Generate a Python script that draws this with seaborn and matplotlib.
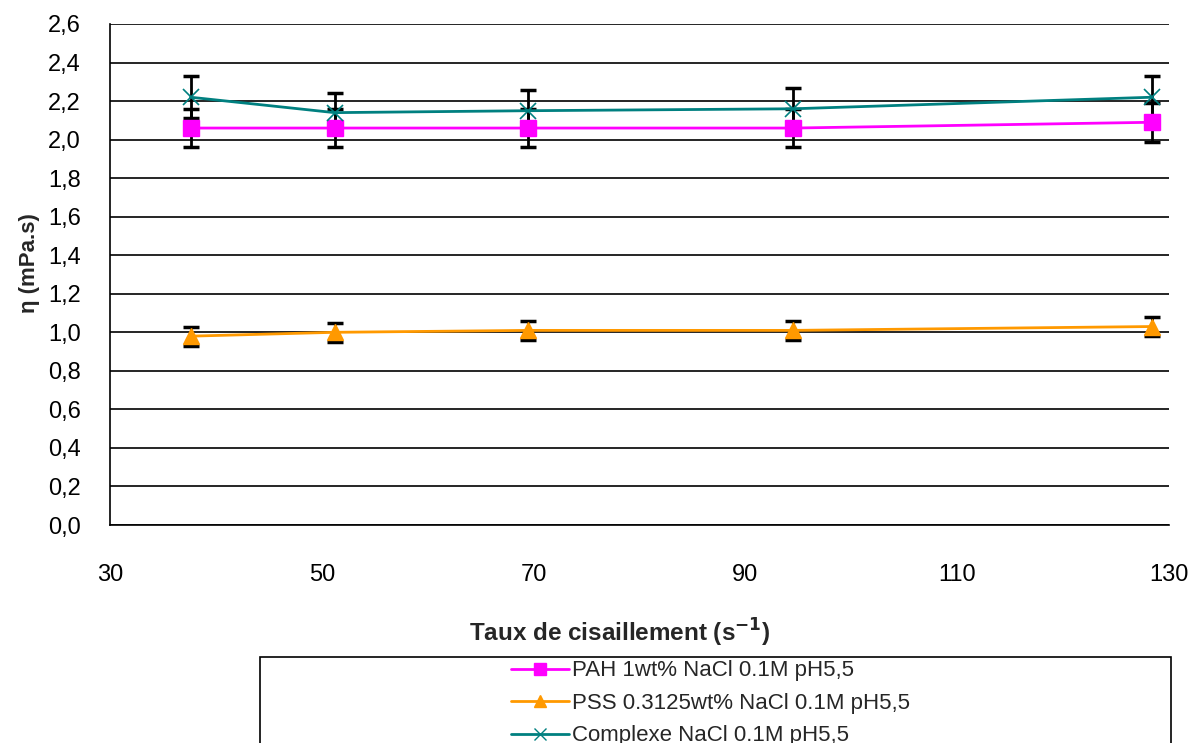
import seaborn as sns
import matplotlib.pyplot as plt
import matplotlib.patches as mpatches
import pandas as pd

# shear rate (s-1)
shear = [37.6, 51.2, 69.5, 94.5, 128.4]

# viscosity (mPa.s) and error bars
pah = [2.06, 2.06, 2.06, 2.06, 2.09]
pah_err = [0.10, 0.10, 0.10, 0.10, 0.10]
pss = [0.98, 1.00, 1.01, 1.01, 1.03]
pss_err = [0.05, 0.05, 0.05, 0.05, 0.05]
cplx = [2.22, 2.14, 2.15, 2.16, 2.22]
cplx_err = [0.11, 0.10, 0.11, 0.11, 0.11]

labels = ['PAH 1wt% NaCl 0.1M pH5,5',
          'PSS 0.3125wt% NaCl 0.1M pH5,5',
          'Complexe NaCl 0.1M pH5,5']
colors = ['#ff00ff', '#ff9900', '#008080']
markers = ['s', '^', 'x']

y_ticks = [0.0, 0.2, 0.4, 0.6, 0.8, 1.0, 1.2, 1.4, 1.6, 1.8, 2.0, 2.2, 2.4, 2.6]
x_ticks = [30, 50, 70, 90, 110, 130]

sns.set_style('white')
plt.rcParams['font.family'] = ['Liberation Sans', 'DejaVu Sans']
plt.rcParams['mathtext.default'] = 'bf'

fig = plt.figure(figsize=(11.96, 7.43), dpi=100)
ax = fig.add_axes([0.092, 0.2934, 0.8855, 0.6743])

series = [(pah, pah_err), (pss, pss_err), (cplx, cplx_err)]
handles = []
for (vals, errs), lab, col, mk in zip(series, labels, colors, markers):
    df = pd.DataFrame({'x': shear, 'y': vals})
    ax.errorbar(shear, vals, yerr=errs, fmt='none', ecolor='black',
                elinewidth=2, capsize=6, capthick=2.5, zorder=3)
    sns.lineplot(data=df, x='x', y='y', ax=ax, color=col, marker=mk,
                 markersize=11 if mk != 'x' else 12, markeredgecolor=col,
                 markeredgewidth=1 if mk != 'x' else 1.2,
                 linewidth=2, zorder=4, legend=False)
    handles.append(plt.Line2D([], [], color=col, marker=mk, markersize=9,
                              markeredgecolor=col, linewidth=2, label=lab))

ax.set_xlim(30, 130)
ax.set_ylim(0, 2.6)
ax.set_xticks(x_ticks)
ax.set_yticks(y_ticks)
ax.set_yticklabels([f'{v:.1f}'.replace('.', ',') for v in y_ticks])
ax.tick_params(axis='both', labelsize=17, length=7, width=1.2,
               direction='out', colors='black')
ax.tick_params(axis='x', pad=21)
ax.tick_params(axis='y', pad=14)
ax.yaxis.grid(True, color='black', linewidth=1.2)
ax.xaxis.grid(False)
for s in ['top', 'right']:
    ax.spines[s].set_visible(False)
for s in ['left', 'bottom']:
    ax.spines[s].set_color('black')
    ax.spines[s].set_linewidth(1.2)

ax.set_xlabel('Taux de cisaillement (s$^{-1}$)', fontsize=17.5,
              fontweight='bold')
ax.xaxis.set_label_coords(0.4816, -0.183)
ax.set_ylabel('η (mPa.s)', fontsize=16, fontweight='bold')
ax.yaxis.set_label_coords(-0.066, 0.523)

# legend box running off the bottom of the figure
box = mpatches.Rectangle((260 / 1196, -0.1), 911 / 1196, (743 - 657) / 743 + 0.1,
                         transform=fig.transFigure, fill=False,
                         edgecolor='black', linewidth=1.2)
fig.patches.append(box)
fig.legend(handles=handles, loc='upper left', frameon=False,
           bbox_to_anchor=(498 / 1196, 1 - 647 / 743), fontsize=16,
           handlelength=2.6, handletextpad=0.15, labelspacing=0.52,
           borderpad=0.1)

fig.savefig('out.png', dpi=100)
